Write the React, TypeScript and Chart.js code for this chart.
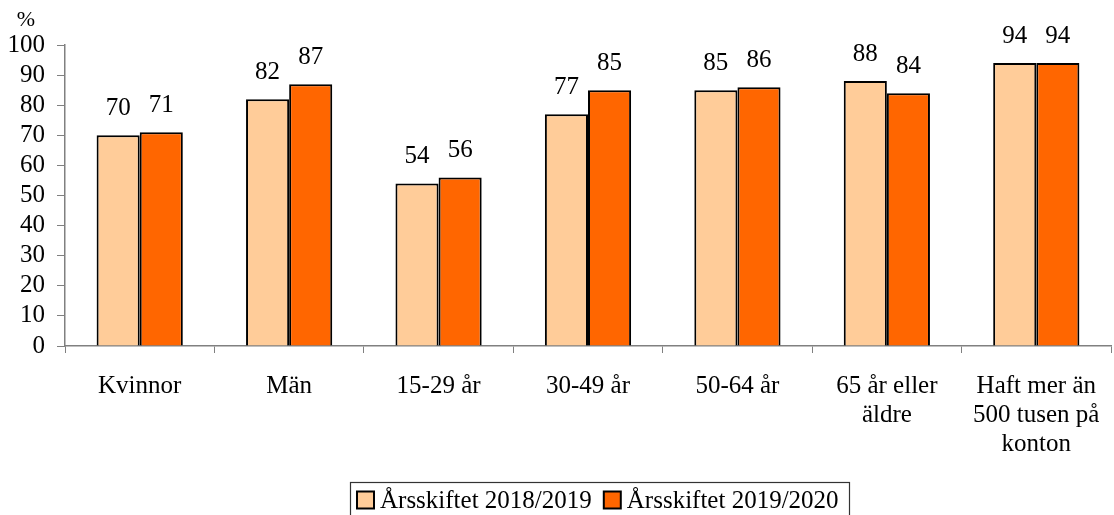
import React, { useEffect, useRef } from "react";
import { Chart, registerables } from "chart.js";

Chart.register(...registerables);

const categories: string[][] = [
  ["Kvinnor"],
  ["Män"],
  ["15-29 år"],
  ["30-49 år"],
  ["50-64 år"],
  ["65 år eller", "äldre"],
  ["Haft mer än", "500 tusen på", "konton"],
];
const series2018 = [70, 82, 54, 77, 85, 88, 94];
const series2019 = [71, 87, 56, 85, 86, 84, 94];
const seriesLabels = ["Årsskiftet 2018/2019", "Årsskiftet 2019/2020"];
const seriesColors = ["#FFCC99", "#FF6600"];
const yTicks = [0, 10, 20, 30, 40, 50, 60, 70, 80, 90, 100];
const yTitle = "%";

const FONT = "'Liberation Serif', 'Times New Roman', serif";
const FS = 25;

const overlay = {
  id: "overlay",
  afterDatasetsDraw(chart: any) {
    const ctx = chart.ctx;
    ctx.save();
    ctx.font = `${FS}px ${FONT}`;
    ctx.fillStyle = "#000";
    ctx.textAlign = "center";
    ctx.textBaseline = "alphabetic";
    chart.data.datasets.forEach((ds: any, i: number) => {
      const meta = chart.getDatasetMeta(i);
      meta.data.forEach((bar: any, j: number) => {
        ctx.fillText(String(ds.data[j]), bar.x, bar.y - 20);
      });
    });
    // y title
    ctx.textAlign = "center";
    ctx.font = `22px ${FONT}`;
    ctx.fillText(yTitle, 26, 26);
    // legend
    ctx.font = `${FS}px ${FONT}`;
    ctx.textAlign = "left";
    const box = 17;
    const gapBoxText = 6;
    const gapItems = 12;
    const widths = chart.data.datasets.map((ds: any) => ctx.measureText(ds.label).width);
    const total =
      widths.reduce((a: number, w: number) => a + box + gapBoxText + w, 0) +
      gapItems * (widths.length - 1);
    const cx = 598;
    const left = Math.round(cx - total / 2);
    const top = 482;
    ctx.strokeStyle = "#333";
    ctx.lineWidth = 1.2;
    ctx.strokeRect(left - 7 + 0.5, top + 0.5, Math.round(total + 17), 40);
    let x = left;
    const yMid = 500;
    chart.data.datasets.forEach((ds: any, i: number) => {
      ctx.fillStyle = ds.backgroundColor;
      ctx.fillRect(x, yMid - box / 2, box, box);
      ctx.strokeStyle = "#000";
      ctx.lineWidth = 2;
      ctx.strokeRect(x, yMid - box / 2, box, box);
      ctx.fillStyle = "#000";
      ctx.fillText(ds.label, x + box + gapBoxText, yMid + 8);
      x += box + gapBoxText + widths[i] + gapItems;
    });
    ctx.restore();
  },
};

export default function App() {
  const ref = useRef<HTMLCanvasElement | null>(null);
  useEffect(() => {
    document.body.style.margin = "0";
    const chart = new Chart(ref.current as HTMLCanvasElement, {
      type: "bar",
      data: {
        labels: categories,
        datasets: [
          {
            label: seriesLabels[0],
            data: series2018,
            backgroundColor: seriesColors[0],
            borderColor: "#000",
            borderWidth: 2,
          },
          {
            label: seriesLabels[1],
            data: series2019,
            backgroundColor: seriesColors[1],
            borderColor: "#000",
            borderWidth: 2,
          },
        ],
      },
      options: {
        animation: false,
        responsive: false,
        maintainAspectRatio: false,
        layout: { padding: { left: 0, top: 45, right: 3, bottom: 0 } },
        datasets: { bar: { categoryPercentage: 0.577, barPercentage: 1 } },
        plugins: { legend: { display: false }, tooltip: { enabled: false } },
        scales: {
          x: {
            grid: {
              offset: true,
              drawOnChartArea: false,
              color: "#808080",
              tickLength: 7,
            },
            border: { color: "#808080", width: 1.5 },
            ticks: {
              color: "#000",
              font: { family: FONT, size: FS, lineHeight: 1.16 },
              padding: 19,
              maxRotation: 0,
              autoSkip: false,
            },
            afterFit: (s: any) => {
              s.height = 515 - 346;
              s.paddingLeft = 0;
              s.paddingRight = 0;
            },
          },
          y: {
            min: 0,
            max: 100,
            afterBuildTicks: (s: any) => {
              s.ticks = yTicks.map((v) => ({ value: v }));
            },
            grid: {
              drawOnChartArea: false,
              color: "#808080",
              tickLength: 8,
            },
            border: { color: "#808080", width: 1.5 },
            ticks: {
              color: "#000",
              font: { family: FONT, size: FS },
              padding: 12,
              autoSkip: false,
            },
            afterFit: (s: any) => {
              s.width = 65;
              s.paddingTop = 0;
              s.paddingBottom = 0;
            },
          },
        },
      },
      plugins: [overlay],
    });
    return () => chart.destroy();
  }, []);
  return (
    <div style={{ position: "absolute", left: 0, top: 0, width: 1114, height: 515 }}>
      <canvas ref={ref} width={1114} height={515} style={{ width: 1114, height: 515 }} />
    </div>
  );
}
